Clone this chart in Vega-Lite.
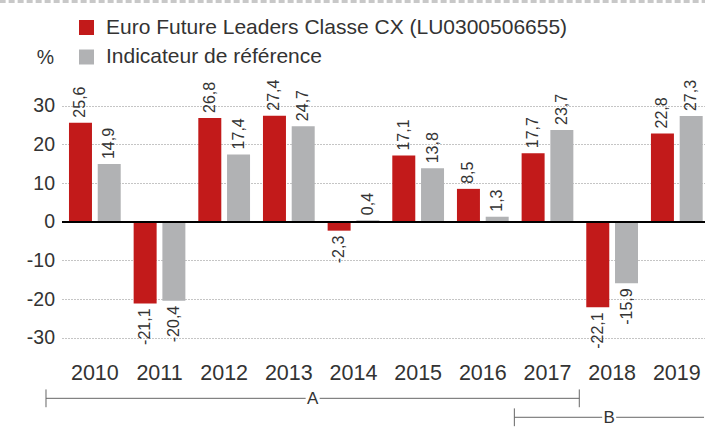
{
  "$schema": "https://vega.github.io/schema/vega-lite/v6.json",
  "width": 643,
  "height": 338,
  "autosize": {"type": "none"},
  "padding": {"left": 62, "top": 94, "right": 0, "bottom": 0},
  "background": "white",
  "config": {
    "font": "Liberation Sans",
    "view": {"stroke": null},
    "locale": {"number": {"decimal": ",", "thousands": " ", "grouping": [3], "currency": ["", " €"], "minus": "-"}},
    "text": {"font": "Liberation Sans", "color": "#333333"}
  },
  "datasets": {
    "perf": [
      {"year": "2010", "series": "Euro Future Leaders Classe CX (LU0300506655)", "value": 25.6},
      {"year": "2010", "series": "Indicateur de référence", "value": 14.9},
      {"year": "2011", "series": "Euro Future Leaders Classe CX (LU0300506655)", "value": -21.1},
      {"year": "2011", "series": "Indicateur de référence", "value": -20.4},
      {"year": "2012", "series": "Euro Future Leaders Classe CX (LU0300506655)", "value": 26.8},
      {"year": "2012", "series": "Indicateur de référence", "value": 17.4},
      {"year": "2013", "series": "Euro Future Leaders Classe CX (LU0300506655)", "value": 27.4},
      {"year": "2013", "series": "Indicateur de référence", "value": 24.7},
      {"year": "2014", "series": "Euro Future Leaders Classe CX (LU0300506655)", "value": -2.3},
      {"year": "2014", "series": "Indicateur de référence", "value": 0.4},
      {"year": "2015", "series": "Euro Future Leaders Classe CX (LU0300506655)", "value": 17.1},
      {"year": "2015", "series": "Indicateur de référence", "value": 13.8},
      {"year": "2016", "series": "Euro Future Leaders Classe CX (LU0300506655)", "value": 8.5},
      {"year": "2016", "series": "Indicateur de référence", "value": 1.3},
      {"year": "2017", "series": "Euro Future Leaders Classe CX (LU0300506655)", "value": 17.7},
      {"year": "2017", "series": "Indicateur de référence", "value": 23.7},
      {"year": "2018", "series": "Euro Future Leaders Classe CX (LU0300506655)", "value": -22.1},
      {"year": "2018", "series": "Indicateur de référence", "value": -15.9},
      {"year": "2019", "series": "Euro Future Leaders Classe CX (LU0300506655)", "value": 22.8},
      {"year": "2019", "series": "Indicateur de référence", "value": 27.3}
    ],
    "periods": [
      {"period": "A", "start": -0.249, "end": 8.045, "level": -45.6},
      {"period": "B", "start": 7.035, "end": 9.985, "level": -50.5}
    ],
    "periodTicks": [
      {"pos": -0.249, "level": -45.6},
      {"pos": 8.045, "level": -45.6},
      {"pos": 7.035, "level": -50.5}
    ],
    "topline": [
      {"start": -0.97, "end": 10.2, "level": 56.9}
    ]
  },
  "layer": [
    {
      "data": {"name": "perf"},
      "encoding": {
        "x": {
          "field": "year", "type": "nominal", "title": null,
          "scale": {"paddingInner": 0.2, "paddingOuter": 0.072, "align": 0.75},
          "axis": {"orient": "bottom", "offset": -59, "domain": false, "ticks": false, "tickSize": 0, "labelPadding": 0, "labelBaseline": "middle", "labelAngle": 0, "labelFontSize": 21.5, "labelColor": "#333333", "labelFont": "Liberation Sans", "grid": false}
        },
        "xOffset": {
          "field": "series", "type": "nominal",
          "sort": ["Euro Future Leaders Classe CX (LU0300506655)", "Indicateur de référence"],
          "scale": {"paddingInner": 0.2}
        },
        "y": {
          "field": "value", "type": "quantitative", "title": "%",
          "scale": {"domain": [-54.3, 33], "nice": false, "zero": false},
          "axis": {
            "values": [-30, -20, -10, 0, 10, 20, 30],
            "domain": false, "ticks": false, "labelPadding": 7.5,
            "labelFontSize": 19.5, "labelColor": "#333333", "labelFont": "Liberation Sans",
            "grid": true, "gridColor": "#8a8a8a", "gridDash": [1, 2], "gridWidth": 1,
            "titleAngle": 0, "titleX": -17, "titleY": -37, "titleAlign": "center", "titleBaseline": "middle",
            "titleFontSize": 19.5, "titleFontWeight": "normal", "titleColor": "#333333", "titleFont": "Liberation Sans"
          }
        }
      },
      "layer": [
        {
          "mark": {"type": "bar"},
          "encoding": {
            "color": {
              "field": "series", "type": "nominal",
              "scale": {"domain": ["Euro Future Leaders Classe CX (LU0300506655)", "Indicateur de référence"], "range": ["#c21a1a", "#b1b2b4"]},
              "legend": {
                "orient": "none", "legendX": 14, "legendY": -77, "direction": "vertical", "title": null,
                "symbolType": "square", "symbolSize": 225, "symbolStrokeWidth": 0, "symbolOpacity": 1,
                "labelFontSize": 21, "labelColor": "#333333", "labelFont": "Liberation Sans", "labelOffset": 9,
                "rowPadding": 7.5, "padding": 0, "labelLimit": 650
              }
            }
          }
        },
        {
          "transform": [{"filter": "datum.value >= 0"}],
          "mark": {"type": "text", "angle": 270, "align": "left", "baseline": "middle", "dx": 5, "fontSize": 16, "color": "#333333"},
          "encoding": {"text": {"field": "value", "type": "quantitative", "format": ".1f"}}
        },
        {
          "transform": [{"filter": "datum.value < 0"}],
          "mark": {"type": "text", "angle": 270, "align": "right", "baseline": "middle", "dx": -5, "fontSize": 16, "color": "#333333"},
          "encoding": {"text": {"field": "value", "type": "quantitative", "format": ".1f"}}
        }
      ]
    },
    {
      "data": {"name": "perf"},
      "mark": {"type": "rule", "color": "#000000", "strokeWidth": 1.6},
      "encoding": {
        "y": {"datum": 0, "type": "quantitative"}
      }
    },
    {
      "data": {"name": "topline"},
      "mark": {"type": "rule", "color": "#c8c8c8", "strokeWidth": 3, "strokeDash": [6, 3], "clip": false},
      "encoding": {
        "x": {"field": "start", "type": "quantitative", "scale": {"domain": [0, 10], "nice": false, "zero": false}, "axis": null},
        "x2": {"field": "end"},
        "y": {"field": "level", "type": "quantitative"}
      }
    },
    {
      "data": {"name": "periods"},
      "encoding": {
        "x": {"field": "start", "type": "quantitative", "scale": {"domain": [0, 10], "nice": false, "zero": false}, "axis": null},
        "y": {"field": "level", "type": "quantitative"}
      },
      "layer": [
        {
          "mark": {"type": "rule", "color": "#666666", "strokeWidth": 1, "clip": false},
          "encoding": {"x2": {"field": "end"}}
        },
        {
          "transform": [{"calculate": "(datum.start + datum.end) / 2", "as": "mid"}],
          "mark": {"type": "point", "shape": "square", "filled": true, "color": "white", "opacity": 1, "size": 196, "clip": false},
          "encoding": {"x": {"field": "mid", "type": "quantitative"}}
        },
        {
          "transform": [{"calculate": "(datum.start + datum.end) / 2", "as": "mid"}],
          "mark": {"type": "text", "fontSize": 17, "color": "#333333", "align": "center", "baseline": "middle", "dy": 1, "clip": false},
          "encoding": {"x": {"field": "mid", "type": "quantitative"}, "text": {"field": "period"}}
        }
      ]
    },
    {
      "data": {"name": "periodTicks"},
      "transform": [{"calculate": "datum.level + 2.3", "as": "top"}, {"calculate": "datum.level - 2.3", "as": "bottom"}],
      "mark": {"type": "rule", "color": "#666666", "strokeWidth": 1, "clip": false},
      "encoding": {
        "x": {"field": "pos", "type": "quantitative", "scale": {"domain": [0, 10], "nice": false, "zero": false}, "axis": null},
        "y": {"field": "top", "type": "quantitative"},
        "y2": {"field": "bottom"}
      }
    }
  ],
  "resolve": {"scale": {"x": "independent"}}
}
